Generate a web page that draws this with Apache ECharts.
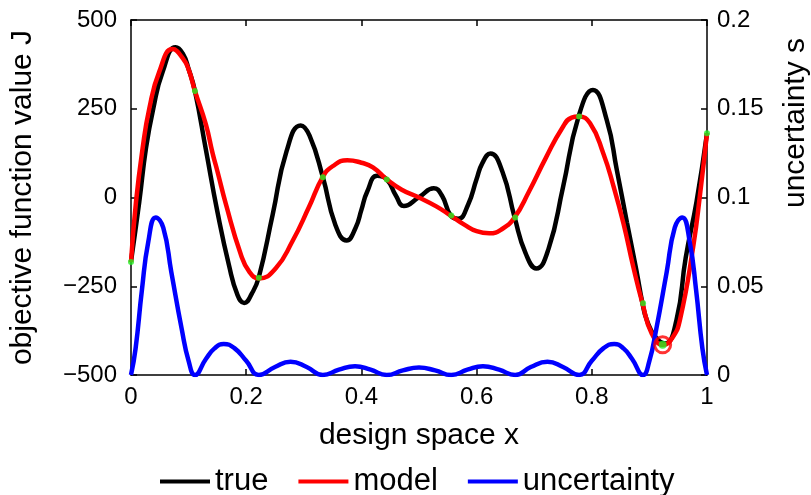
<!DOCTYPE html>
<html><head><meta charset="utf-8">
<script src="https://cdn.jsdelivr.net/npm/echarts@6/dist/echarts.min.js"></script>
<style>html,body{margin:0;padding:0;background:#fff}#c{width:811px;height:495px}</style>
</head><body><div id="c"></div>
<script>
// true objective function
const trueX = [0,0.0144,0.026,0.0387,0.055,0.0774,0.09,0.1,0.111,0.13,0.15,0.17,0.185,0.1965,0.21,0.222,0.246,0.27,0.2946,0.31,0.333,0.355,0.3744,0.39,0.40,0.41,0.4275,0.444,0.46,0.4737,0.5,0.5257,0.54,0.555,0.568,0.585,0.6,0.61,0.624,0.645,0.666,0.685,0.7036,0.725,0.75,0.777,0.802,0.826,0.8435,0.861,0.878,0.888,0.8955,0.91,0.927,0.947,0.963,0.982,1];
const trueY = [-180,-12,139,251,354,423,405,362,300,135,-40,-190,-275,-297,-270,-224,-48,130,203,174,58,-78,-121,-85,-35,16,61,51,5,-24,1,26,5,-51,-60,-21,52,97,124,72,-56,-157,-200,-144,29,228,303,218,77,-70,-210,-298,-345,-392,-411,-345,-170,-10,181];
// model (surrogate)
const modelX = [0,0.0087,0.0202,0.0318,0.049,0.0722,0.09,0.1,0.111,0.13,0.1416,0.15,0.165,0.19,0.205,0.2224,0.251,0.28,0.309,0.333,0.35,0.3755,0.4,0.42,0.444,0.47,0.5,0.53,0.555,0.58,0.6,0.622,0.645,0.666,0.691,0.72,0.7487,0.765,0.777,0.797,0.82,0.838,0.855,0.872,0.888,0.904,0.924,0.94,0.953,0.976,0.988,1];
const modelY = [-182,-12,139,251,354,418,392,361,300,206,125,74,-20,-157,-208,-228,-200,-124,-27,58,88,105,98,85,51,22,0,-25,-51,-78,-95,-101,-88,-56,17,111,196,225,228,209,124,30,-73,-195,-298,-383,-415,-395,-345,-139,10,181];
// uncertainty s (right axis)
const uncX = [0,0.008,0.019,0.03,0.043,0.056,0.07,0.088,0.1,0.111,0.13,0.145,0.161,0.18,0.2,0.222,0.25,0.277,0.305,0.333,0.361,0.389,0.416,0.444,0.472,0.5,0.528,0.556,0.584,0.611,0.639,0.667,0.694,0.723,0.75,0.778,0.8,0.82,0.839,0.855,0.87,0.889,0.9,0.912,0.93,0.944,0.957,0.97,0.981,0.992,1];
const uncY = [0,0.015,0.048,0.075,0.0888,0.083,0.058,0.026,0.008,0,0.009,0.015,0.0175,0.015,0.008,0,0.0045,0.0075,0.0045,0,0.003,0.005,0.003,0,0.0026,0.0042,0.0026,0,0.003,0.005,0.003,0,0.0045,0.0075,0.0045,0,0.008,0.015,0.0175,0.015,0.009,0,0.008,0.026,0.058,0.083,0.0888,0.075,0.048,0.015,0];
// sample points
const sampleX = [0,0.111,0.222,0.333,0.444,0.556,0.667,0.778,0.889,1];
const sampleY = [-182,300,-226,57,51,-51,-56,228,-298,181];
const infillX = [0.923];
const infillY = [-415];
// axis ticks
const leftTicks = [-500,-250,0,250,500];
const rightTicks = [0,0.05,0.1,0.15,0.2];
const xTicks = [0,0.2,0.4,0.6,0.8,1];

const zip = (a,b)=>a.map((v,i)=>[v,b[i]]);
const F = 'Liberation Sans, Arial, Helvetica, sans-serif';
const fs = 24;   // tick labels
const ls = 30;   // axis titles
const minus = v => String(v).replace('-', '\u2212');

const chart = echarts.init(document.getElementById('c'), null, {renderer:'canvas'});
chart.setOption({
  backgroundColor:'#fff',
  animation:false,
  textStyle:{fontFamily:F},
  grid:{left:130,right:104,top:20,bottom:120,containLabel:false},
  legend:{
    data:['true','model','uncertainty'],
    top:461, left:155,
    icon:'rect', itemWidth:50, itemHeight:4, itemGap:30, itemTextGap:12,
    textStyle:{fontFamily:F,fontSize:31,color:'#000'}
  },
  graphic:[{
    type:'text', x:796, y:123, rotation:Math.PI/2,
    style:{text:'uncertainty s', fill:'#000', font:ls+'px '+F, textAlign:'center', textVerticalAlign:'middle'},
    silent:true
  }],
  xAxis:[{
    type:'value', min:xTicks[0], max:xTicks[xTicks.length-1], interval:0.2,
    name:'design space x', nameLocation:'middle', nameGap:46,
    nameTextStyle:{fontFamily:F,fontSize:ls,color:'#000'},
    axisLine:{show:true,onZero:false,lineStyle:{color:'#000',width:1.5}},
    axisTick:{inside:true,length:6,lineStyle:{color:'#000',width:1.5}},
    axisLabel:{fontFamily:F,fontSize:fs,color:'#000',margin:10,formatter:v=>minus(v)},
    splitLine:{show:false}
  },{
    type:'value', position:'top', min:0, max:1, interval:0.2,
    axisLine:{show:true,onZero:false,lineStyle:{color:'#000',width:1.5}},
    axisTick:{inside:true,length:6,lineStyle:{color:'#000',width:1.5}},
    axisLabel:{show:false}, splitLine:{show:false}
  }],
  yAxis:[{
    type:'value', min:leftTicks[0], max:leftTicks[leftTicks.length-1], interval:250,
    name:'objective function value J', nameLocation:'middle', nameGap:93, nameRotate:90,
    nameTextStyle:{fontFamily:F,fontSize:ls,color:'#000'},
    axisLine:{show:true,onZero:false,lineStyle:{color:'#000',width:1.5}},
    axisTick:{inside:true,length:6,lineStyle:{color:'#000',width:1.5}},
    axisLabel:{fontFamily:F,fontSize:fs,color:'#000',margin:14,formatter:v=>minus(v)},
    splitLine:{show:false}
  },{
    type:'value', position:'right', min:rightTicks[0], max:rightTicks[rightTicks.length-1], interval:0.05,
    axisLine:{show:true,onZero:false,lineStyle:{color:'#000',width:1.5}},
    axisTick:{inside:true,length:6,lineStyle:{color:'#000',width:1.5}},
    axisLabel:{fontFamily:F,fontSize:fs,color:'#000',margin:10},
    splitLine:{show:false}
  }],
  series:[
    {name:'true',type:'line',data:zip(trueX,trueY),smooth:0.5,symbol:'none',
     lineStyle:{color:'#000',width:4.5},itemStyle:{color:'#000'},z:2},
    {name:'model',type:'line',data:zip(modelX,modelY),smooth:0.5,symbol:'none',
     lineStyle:{color:'#ff0000',width:4.5},itemStyle:{color:'#ff0000'},z:3},
    {name:'uncertainty',type:'line',yAxisIndex:1,data:zip(uncX,uncY),smooth:0.5,symbol:'none',
     lineStyle:{color:'#0000ff',width:4.5},itemStyle:{color:'#0000ff'},z:4},
    {name:'infill',type:'scatter',data:zip(infillX,infillY),symbolSize:16,
     itemStyle:{color:'rgba(0,0,0,0)',borderColor:'#ff0000',borderWidth:3},z:5,silent:true},
    {name:'samples',type:'scatter',data:zip(sampleX,sampleY),symbolSize:6,
     itemStyle:{color:'#22ee22'},z:6,silent:true},
    {name:'infillDot',type:'scatter',data:zip(infillX,infillY),symbolSize:8,
     itemStyle:{color:'#22ee22'},z:7,silent:true}
  ]
});
</script></body></html>
